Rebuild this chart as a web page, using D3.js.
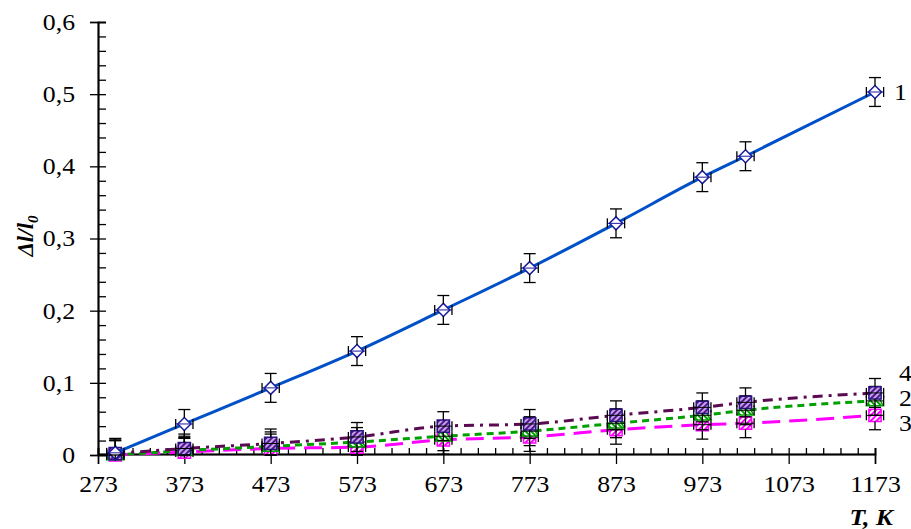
<!DOCTYPE html>
<html><head><meta charset="utf-8">
<script src="https://cdn.jsdelivr.net/npm/d3@7"></script>
<style>
body{margin:0;background:#fff;}
svg{display:block;}
text{font-family:"Liberation Serif","Times New Roman",serif;}
</style></head>
<body><svg id="c" width="911" height="529"></svg>
<script>
const temps = [293, 373, 473, 573, 673, 773, 873, 973, 1023, 1173];
const s1 = [0.003, 0.043, 0.093, 0.144, 0.201, 0.259, 0.321, 0.385, 0.414, 0.503];
const s2 = [0.000, 0.006, 0.012, 0.018, 0.026, 0.033, 0.044, 0.055, 0.062, 0.075];
const s3 = [0.000, 0.004, 0.009, 0.011, 0.021, 0.025, 0.035, 0.042, 0.044, 0.055];
const s4 = [0.002, 0.009, 0.016, 0.025, 0.040, 0.043, 0.055, 0.066, 0.073, 0.086];
const xTicks = [273, 373, 473, 573, 673, 773, 873, 973, 1073, 1173];
const yTicks = [0, 0.1, 0.2, 0.3, 0.4, 0.5, 0.6];
const seriesNames = ["1", "2", "3", "4"];
const yErr = 0.02, xErr = 10;

const svg = d3.select("#c");
const x = d3.scaleLinear().domain([273, 1173]).range([98, 875]);
const y = d3.scaleLinear().domain([0, 0.6]).range([455, 22]);
const STRETCH = 1.12;
function stretch(sel) {
  sel.each(function() {
    const w = this.getComputedTextLength();
    if (w > 0) d3.select(this).attr("textLength", w * STRETCH).attr("lengthAdjust", "spacingAndGlyphs");
  });
}

const defs = svg.append("defs");
function hatch(id, color, bg, angle) {
  const p = defs.append("pattern").attr("id", id).attr("patternUnits", "userSpaceOnUse")
    .attr("width", 4).attr("height", 4).attr("patternTransform", "rotate(" + angle + ")");
  p.append("rect").attr("width", 4).attr("height", 4).attr("fill", bg);
  p.append("rect").attr("width", 2).attr("height", 4).attr("fill", color);
}
hatch("h3", "#ff00ff", "#ffffff", 45);
hatch("h2", "#00a000", "#ffffff", -45);
hatch("h4", "#4a1a8a", "#c8a0e8", 45);

const xMinor = d3.range(273, 1174, 20).filter(v => !xTicks.includes(v));
const yMinor = d3.range(0, 0.601, 0.02).map(v => +v.toFixed(2)).filter(v => !yTicks.some(t => Math.abs(t - v) < 1e-9));

const gx = svg.append("g").attr("transform", "translate(0,454)");
gx.call(d3.axisBottom(x).tickValues(xTicks).tickSize(10).tickPadding(12).tickFormat(d3.format("d")));
gx.append("g").call(d3.axisTop(x).tickValues(xTicks).tickSize(6).tickFormat(""));
gx.append("g").call(d3.axisTop(x).tickValues(xMinor).tickSize(6).tickFormat(""));
const gy = svg.append("g").attr("transform", "translate(98,0)");
gy.call(d3.axisLeft(y).tickValues(yTicks).tickSize(8).tickPadding(15)
  .tickFormat(d => d === 0 ? "0" : d3.format(".1f")(d).replace(".", ",")));
gy.append("g").call(d3.axisRight(y).tickValues(yTicks).tickSize(8).tickFormat(""));
gy.append("g").call(d3.axisRight(y).tickValues(yMinor).tickSize(8).tickFormat(""));
svg.selectAll("g").attr("font-family", null);
svg.selectAll(".domain").attr("stroke", "#000").attr("stroke-width", 1.5);
svg.selectAll(".tick line").attr("stroke", "#000").attr("stroke-width", 1.3);
svg.selectAll(".tick text").attr("font-size", 23).attr("fill", "#000")
  .style("font-family", "'Liberation Serif', serif");
gx.selectAll(".tick text").attr("dy", "0.71em").call(stretch);
gy.selectAll(".tick text").call(stretch);

svg.append("text").attr("transform", "translate(33,236) rotate(-90)").attr("text-anchor", "middle")
  .attr("font-size", 23).attr("font-weight", "bold").attr("font-style", "italic")
  .html('Δl/l<tspan font-size="15" dy="5">0</tspan>');
svg.append("text").attr("x", 893).attr("y", 525).attr("text-anchor", "end")
  .attr("font-size", 23).attr("font-weight", "bold").attr("font-style", "italic").text("T, K").call(stretch);

const series = [
  {name: "3", vals: s3, color: "#ff00ff", dash: "18,9", mark: "sq", fill: "url(#h3)", stroke: "#ff00ff"},
  {name: "2", vals: s2, color: "#00a000", dash: "7,5", mark: "tri", fill: "url(#h2)", stroke: "#00a000"},
  {name: "4", vals: s4, color: "#5a0a50", dash: "10,6,3,6", mark: "sq", fill: "url(#h4)", stroke: "#2a1080"},
  {name: "1", vals: s1, color: "#0050c8", dash: null, mark: "dia", fill: "#ffffff", stroke: "#1a1aa0"}
];

const line = d3.line().x(d => x(d[0])).y(d => y(d[1])).curve(d3.curveMonotoneX);

series.forEach(s => {
  const pts = temps.map((t, i) => [t, s.vals[i]]);
  const g = svg.append("g");
  g.append("path").datum(pts).attr("d", line).attr("fill", "none")
    .attr("stroke", s.color).attr("stroke-width", 3)
    .attr("stroke-dasharray", s.dash);
  const sym = s.mark === "tri" ? d3.symbolTriangle : d3.symbolSquare;
  const size = s.mark === "sq" ? 150 : s.mark === "tri" ? 120 : 85;
  g.selectAll("path.m").data(pts).join("path").attr("class", "m")
    .attr("d", d3.symbol().type(sym).size(size))
    .attr("transform", d => `translate(${x(d[0])},${y(d[1])})` + (s.mark === "dia" ? " rotate(45)" : ""))
    .attr("fill", s.fill).attr("stroke", s.stroke).attr("stroke-width", 1.5);
  const eb = g.append("g").attr("stroke", "#000").attr("stroke-width", 1.3);
  pts.forEach(p => {
    const cx = x(p[0]), cy = y(p[1]);
    const y1 = y(p[1] + yErr);
    const yb = Math.min(y(p[1] - yErr), 455);
    eb.append("line").attr("x1", cx).attr("x2", cx).attr("y1", y1).attr("y2", cy - 6);
    eb.append("line").attr("x1", cx).attr("x2", cx).attr("y1", cy + 6).attr("y2", yb);
    eb.append("line").attr("x1", cx - 6).attr("x2", cx + 6).attr("y1", y1).attr("y2", y1);
    eb.append("line").attr("x1", cx - 6).attr("x2", cx + 6).attr("y1", yb).attr("y2", yb);
    const xl = x(p[0] - xErr), xr = x(p[0] + xErr);
    eb.append("line").attr("x1", xl).attr("x2", xr).attr("y1", cy).attr("y2", cy)
      .attr("stroke", s.mark === "dia" ? "#1a1aa0" : "#000").attr("stroke-width", 1);
    eb.append("line").attr("x1", xl).attr("x2", xl).attr("y1", cy - 5).attr("y2", cy + 5);
    eb.append("line").attr("x1", xr).attr("x2", xr).attr("y1", cy - 5).attr("y2", cy + 5);
  });
});

const labelY = {"1": 0.503, "4": 0.113, "2": 0.079, "3": 0.045};
seriesNames.forEach(n => {
  svg.append("text").attr("x", n === "1" ? 894 : 899).attr("y", y(labelY[n]) + 8)
    .attr("font-size", 23).attr("fill", "#000").text(n).call(stretch);
});
</script></body></html>
